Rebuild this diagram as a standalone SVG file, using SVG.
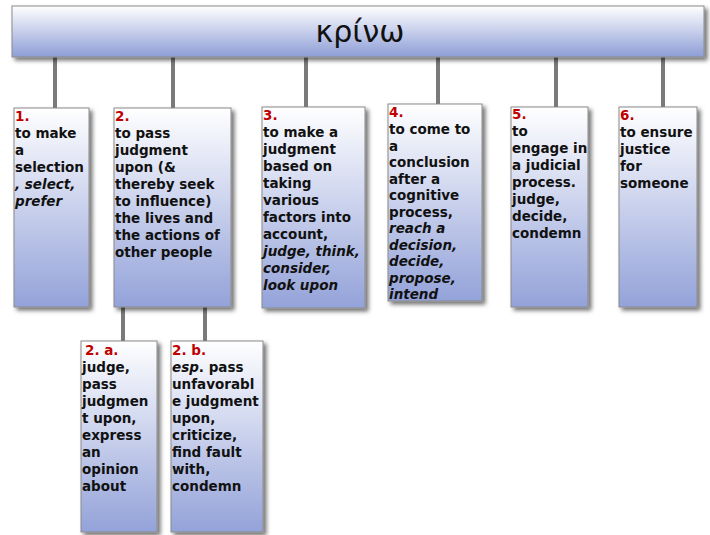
<svg xmlns="http://www.w3.org/2000/svg" width="710" height="535" viewBox="0 0 710 535">
<defs>
<linearGradient id="gBox" x1="0" y1="0" x2="0" y2="1">
<stop offset="0" stop-color="#ffffff"/>
<stop offset="1" stop-color="#93a2d9"/>
</linearGradient>
<linearGradient id="gBar" x1="0" y1="0" x2="0" y2="1">
<stop offset="0" stop-color="#ffffff"/>
<stop offset="1" stop-color="#8d9dd6"/>
</linearGradient>
<filter id="sh" x="-20%" y="-20%" width="150%" height="150%">
<feDropShadow dx="3" dy="3" stdDeviation="2" flood-color="#000" flood-opacity="0.55"/>
</filter>
</defs>
<style>
.box{fill:url(#gBox);stroke:#8a8a8a;stroke-width:1;filter:url(#sh)}
.bar{fill:url(#gBar);stroke:#8a8a8a;stroke-width:1;filter:url(#sh)}
.t{font-family:"DejaVu Sans","Liberation Sans",sans-serif;font-weight:bold;font-size:13.5px;fill:#111}
.n{fill:#c00000}
.i{font-style:italic}
.c line{stroke:#7a7a7a;stroke-width:4}
.title{font-family:"DejaVu Sans","Noto Sans",sans-serif;font-size:30px;fill:#111}
</style>
<g class="c" id="connectors">
<line x1="55" y1="56" x2="55" y2="108"/>
<line x1="173" y1="56" x2="173" y2="108"/>
<line x1="306" y1="56" x2="306" y2="107"/>
<line x1="438" y1="56" x2="438" y2="105"/>
<line x1="556" y1="56" x2="556" y2="108"/>
<line x1="663" y1="56" x2="663" y2="108"/>
<line x1="123" y1="306" x2="123" y2="342"/>
<line x1="205" y1="306" x2="205" y2="342"/>
</g>
<g id="root">
<rect class="bar" x="12" y="6" width="692" height="51"/>
<text class="title" x="360" y="42" text-anchor="middle">κρίνω</text>
</g>
<g id="n1">
<rect class="box" x="14" y="108" width="75" height="199"/>
<text class="t" x="15"><tspan class="n" y="121">1.</tspan><tspan x="15" y="138">to make</tspan><tspan x="15" y="155">a</tspan><tspan x="15" y="172">selection</tspan><tspan x="15" y="189" class="i">, select,</tspan><tspan x="15" y="206" class="i">prefer</tspan></text>
</g>
<g id="n2">
<rect class="box" x="114" y="108" width="117" height="199"/>
<text class="t" x="115"><tspan class="n" y="121">2.</tspan><tspan x="115" y="138">to pass</tspan><tspan x="115" y="155">judgment</tspan><tspan x="115" y="172">upon (&amp;</tspan><tspan x="115" y="189">thereby seek</tspan><tspan x="115" y="206">to influence)</tspan><tspan x="115" y="223">the lives and</tspan><tspan x="115" y="240">the actions of</tspan><tspan x="115" y="257">other people</tspan></text>
</g>
<g id="n3">
<rect class="box" x="262" y="107" width="103" height="201"/>
<text class="t" x="263"><tspan class="n" y="120">3.</tspan><tspan x="263" y="137">to make a</tspan><tspan x="263" y="154">judgment</tspan><tspan x="263" y="171">based on</tspan><tspan x="263" y="188">taking</tspan><tspan x="263" y="205">various</tspan><tspan x="263" y="222">factors into</tspan><tspan x="263" y="239">account,</tspan><tspan x="263" y="256" class="i">judge, think,</tspan><tspan x="263" y="273" class="i">consider,</tspan><tspan x="263" y="290" class="i">look upon</tspan></text>
</g>
<g id="n4">
<rect class="box" x="388" y="104" width="94" height="197"/>
<text class="t" x="389"><tspan class="n" y="117">4.</tspan><tspan x="389" y="134">to come to</tspan><tspan x="389" y="150.5">a</tspan><tspan x="389" y="167">conclusion</tspan><tspan x="389" y="183.5">after a</tspan><tspan x="389" y="200">cognitive</tspan><tspan x="389" y="216.5">process,</tspan><tspan x="389" y="233" class="i">reach a</tspan><tspan x="389" y="249.5" class="i">decision,</tspan><tspan x="389" y="266" class="i">decide,</tspan><tspan x="389" y="282.5" class="i">propose,</tspan><tspan x="389" y="299" class="i">intend</tspan></text>
</g>
<g id="n5">
<rect class="box" x="511" y="107" width="77" height="200"/>
<text class="t" x="512"><tspan class="n" y="119">5.</tspan><tspan x="512" y="136">to</tspan><tspan x="512" y="153">engage in</tspan><tspan x="512" y="170">a judicial</tspan><tspan x="512" y="187">process.</tspan><tspan x="512" y="204">judge,</tspan><tspan x="512" y="221">decide,</tspan><tspan x="512" y="238">condemn</tspan></text>
</g>
<g id="n6">
<rect class="box" x="619" y="107" width="78" height="200"/>
<text class="t" x="620"><tspan class="n" y="120">6.</tspan><tspan x="620" y="137">to ensure</tspan><tspan x="620" y="154">justice</tspan><tspan x="620" y="171">for</tspan><tspan x="620" y="188">someone</tspan></text>
</g>
<g id="n2a">
<rect class="box" x="81" y="341" width="76" height="191"/>
<text class="t" x="85"><tspan class="n" y="355">2. a.</tspan><tspan x="82" y="372">judge,</tspan><tspan x="82" y="389">pass</tspan><tspan x="82" y="406">judgmen</tspan><tspan x="82" y="423">t upon,</tspan><tspan x="82" y="440">express</tspan><tspan x="82" y="457">an</tspan><tspan x="82" y="474">opinion</tspan><tspan x="82" y="491">about</tspan></text>
</g>
<g id="n2b">
<rect class="box" x="171" y="341" width="92" height="191"/>
<text class="t" x="172"><tspan class="n" y="355">2. b.</tspan><tspan x="172" y="372"><tspan class="i">esp</tspan>. pass</tspan><tspan x="172" y="389">unfavorabl</tspan><tspan x="172" y="406">e judgment</tspan><tspan x="172" y="423">upon,</tspan><tspan x="172" y="440">criticize,</tspan><tspan x="172" y="457">find fault</tspan><tspan x="172" y="474">with,</tspan><tspan x="172" y="491">condemn</tspan></text>
</g>
</svg>
